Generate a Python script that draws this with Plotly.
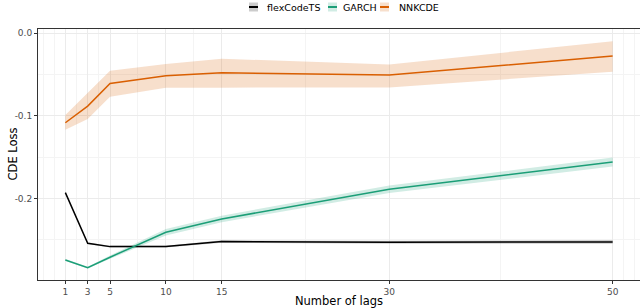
import plotly.graph_objects as go

# ---- data ----
lags = [1, 3, 5, 10, 15, 30, 50]

flex_mean = [-0.1931, -0.2543, -0.2584, -0.2584, -0.2523, -0.2531, -0.2527]
flex_lo = [-0.1939, -0.2553, -0.2594, -0.2596, -0.2538, -0.2549, -0.2549]
flex_hi = [-0.1923, -0.2533, -0.2574, -0.2572, -0.2508, -0.2513, -0.2505]

garch_mean = [-0.2745, -0.2838, -0.2712, -0.2410, -0.2249, -0.1890, -0.1560]
garch_lo = [-0.2755, -0.2848, -0.2732, -0.2450, -0.2289, -0.1935, -0.1615]
garch_hi = [-0.2735, -0.2828, -0.2692, -0.2370, -0.2209, -0.1845, -0.1505]

nnk_mean = [-0.1085, -0.0883, -0.0609, -0.0516, -0.0480, -0.0508, -0.0278]
nnk_lo = [-0.1170, -0.1040, -0.0770, -0.0660, -0.0660, -0.0657, -0.0468]
nnk_hi = [-0.0990, -0.0720, -0.0455, -0.0375, -0.0310, -0.0380, -0.0097]

series_names = ["flexCodeTS", "GARCH", "NNKCDE"]
x_tick_vals = [1, 3, 5, 10, 15, 30, 50]
x_tick_text = ["1", "3", "5", "10", "15", "30", "50"]
x_minor_vals = [-1, 0, 2, 4, 7.5, 12.5, 22.5, 40, 51, 52]
y_tick_vals = [0.0, -0.1, -0.2]
y_tick_text = ["0.0", "-0.1", "-0.2"]
y_minor_vals = [-0.25, -0.15, -0.05]

line_colors = ["#000000", "#1B9E77", "#D95F02"]
fill_colors = ["rgba(0,0,0,0.2)", "rgba(27,158,119,0.2)", "rgba(217,95,2,0.2)"]

means = [flex_mean, garch_mean, nnk_mean]
los = [flex_lo, garch_lo, nnk_lo]
his = [flex_hi, garch_hi, nnk_hi]

W, H = 640, 308
ML, MR, MT, MB = 38, 0, 29, 28
PW, PH = W - ML - MR, H - MT - MB

fig = go.Figure()

# ribbons
for name, lo, hi, fc in zip(series_names, los, his, fill_colors):
    fig.add_trace(go.Scatter(x=lags, y=hi, mode="lines", line=dict(width=0),
                             showlegend=False, hoverinfo="skip"))
    fig.add_trace(go.Scatter(x=lags, y=lo, mode="lines", line=dict(width=0),
                             fill="tonexty", fillcolor=fc,
                             showlegend=False, hoverinfo="skip"))

# lines
for name, m, lc in zip(series_names, means, line_colors):
    fig.add_trace(go.Scatter(x=lags, y=m, mode="lines", name=name,
                             line=dict(color=lc, width=1.5), showlegend=False))

font_family = "DejaVu Sans"

def px_x(px):
    return (px - ML) / PW

def px_y(py):
    return (H - MB - py) / PH

# ggplot-style legend at the top (key box + line, label)
key_left = [249, 328, 380]
text_left = [265, 341, 397]
shapes = []
annotations = []
for name, kl, tl, lc, fc in zip(series_names, key_left, text_left, line_colors, fill_colors):
    shapes.append(dict(type="rect", xref="paper", yref="paper",
                       x0=px_x(kl), x1=px_x(kl + 9), y0=px_y(11.5), y1=px_y(2.5),
                       fillcolor=fc, line=dict(width=0), layer="above"))
    shapes.append(dict(type="line", xref="paper", yref="paper",
                       x0=px_x(kl), x1=px_x(kl + 9), y0=px_y(7), y1=px_y(7),
                       line=dict(color=lc, width=2), layer="above"))
    annotations.append(dict(text=name, xref="paper", yref="paper",
                            x=px_x(tl), y=px_y(7.5), xanchor="left", yanchor="middle",
                            showarrow=False, font=dict(size=9.5, color="#000000")))

# y-axis title placed like ggplot
annotations.append(dict(text="CDE Loss", xref="paper", yref="paper",
                        x=px_x(12), y=0.5, xanchor="center", yanchor="middle",
                        textangle=-90, showarrow=False,
                        font=dict(size=11.5, color="#000000")))

fig.update_layout(
    width=W, height=H,
    margin=dict(l=ML, r=MR, t=MT, b=MB),
    paper_bgcolor="white", plot_bgcolor="white",
    font=dict(family=font_family, color="#000000", size=9),
    showlegend=False,
    shapes=shapes, annotations=annotations,
    xaxis=dict(
        range=[-1.45, 52.45], automargin=False,
        tickmode="array", tickvals=x_tick_vals, ticktext=x_tick_text,
        ticks="outside", ticklen=3, tickcolor="#333333",
        tickfont=dict(size=9, color="#4D4D4D"),
        showgrid=True, gridcolor="#EBEBEB", gridwidth=1,
        minor=dict(tickmode="array", tickvals=x_minor_vals, showgrid=True,
                   gridcolor="#F4F4F4", gridwidth=1, ticks=""),
        showline=True, linecolor="#333333", linewidth=1, mirror=True,
        zeroline=False,
        title=dict(text="Number of lags", font=dict(size=11.5, color="#000000")),
    ),
    yaxis=dict(
        range=[-0.2988, 0.005], automargin=False,
        tickmode="array", tickvals=y_tick_vals, ticktext=y_tick_text,
        ticks="outside", ticklen=3, tickcolor="#333333",
        tickfont=dict(size=9, color="#4D4D4D"),
        showgrid=True, gridcolor="#EBEBEB", gridwidth=1,
        minor=dict(tickmode="array", tickvals=y_minor_vals, showgrid=True,
                   gridcolor="#F4F4F4", gridwidth=1, ticks=""),
        showline=True, linecolor="#333333", linewidth=1, mirror=True,
        zeroline=False,
    ),
)

fig.write_html("out.html",
               config={"displayModeBar": False},
               post_script="document.body.style.margin='0px';document.body.style.padding='0px';")
